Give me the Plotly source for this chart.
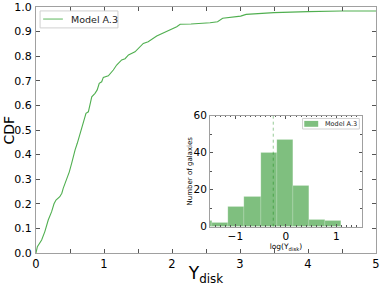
import plotly.graph_objects as go

# CDF curve
cdf_x = [0.0, 0.02, 0.083, 0.13, 0.18, 0.23, 0.265, 0.294, 0.35, 0.38, 0.40, 0.45, 0.49, 0.525, 0.55,
         0.575, 0.607, 0.647, 0.686, 0.72, 0.735, 0.77, 0.794, 0.82, 0.868, 0.90, 0.93, 0.966, 0.99,
         1.064, 1.137, 1.186, 1.26, 1.31, 1.36, 1.456, 1.578, 1.65, 1.775, 1.92, 2.07, 2.12, 2.28,
         2.56, 2.67, 2.745, 3.01, 3.09, 3.50, 4.0, 4.49, 5.0]
cdf_y = [0.0, 0.026, 0.053, 0.087, 0.134, 0.168, 0.20, 0.215, 0.229, 0.243, 0.263, 0.297, 0.33, 0.365, 0.398,
         0.419, 0.446, 0.487, 0.527, 0.561, 0.568, 0.574, 0.608, 0.635, 0.649, 0.663, 0.69, 0.696, 0.714,
         0.72, 0.744, 0.764, 0.785, 0.79, 0.805, 0.818, 0.852, 0.859, 0.882, 0.90, 0.92, 0.93, 0.931,
         0.936, 0.94, 0.954, 0.963, 0.97, 0.977, 0.981, 0.984, 0.984]

# Inset histogram of log(Y_disk)
bin_edges = [-1.78, -1.46, -1.14, -0.82, -0.50, -0.18, 0.14, 0.46, 0.78, 1.10]
counts = [3, 2, 11, 16, 40, 47, 22, 4, 3]
marker_line_x = -0.25

series_name = "Model A.3"

centers = [(a + b) / 2 for a, b in zip(bin_edges[:-1], bin_edges[1:])]
widths = [b - a for a, b in zip(bin_edges[:-1], bin_edges[1:])]

FONT = "DejaVu Sans"
SPINE = "#a0a0a0"
TICK = "#555555"
LINE_COLOR = "rgb(80,175,80)"
BAR_COLOR = "rgba(0,128,0,0.5)"
BOX = "#d0d0d0"

fig = go.Figure()
fig.add_trace(go.Scatter(x=cdf_x, y=cdf_y, mode="lines", name=series_name,
                         line=dict(color=LINE_COLOR, width=1.1), showlegend=False))
fig.add_trace(go.Bar(x=centers, y=counts, width=widths, name=series_name,
                     marker=dict(color=BAR_COLOR, line=dict(width=0.5, color="rgba(255,255,255,0.35)")),
                     xaxis="x2", yaxis="y2", showlegend=False))

fig.add_shape(type="line", xref="x2", yref="y2", x0=marker_line_x, x1=marker_line_x, y0=0, y1=60,
              line=dict(color="rgba(0,128,0,0.6)", width=0.7, dash="dot"))

# main legend (drawn box, line sample, text)
fig.add_shape(type="rect", xref="paper", yref="paper", x0=0.012, x1=0.241, y0=0.915, y1=0.984,
              line=dict(color=BOX, width=1), fillcolor="white", layer="above")
fig.add_shape(type="line", xref="paper", yref="paper", x0=0.021, x1=0.079, y0=0.951, y1=0.951,
              line=dict(color="rgb(130,200,130)", width=1.3), layer="above")
fig.add_annotation(xref="paper", yref="paper", x=0.098, y=0.951, xanchor="left", yanchor="middle",
                   text=series_name, showarrow=False, font=dict(size=9.5, family=FONT, color="#222"))

# inset legend
fig.add_shape(type="rect", xref="paper", yref="paper", x0=0.784, x1=0.951, y0=0.504, y1=0.547,
              line=dict(color=BOX, width=1), fillcolor="white", layer="above")
fig.add_shape(type="rect", xref="paper", yref="paper", x0=0.789, x1=0.830, y0=0.513, y1=0.537,
              line=dict(width=0), fillcolor=BAR_COLOR, layer="above")
fig.add_annotation(xref="paper", yref="paper", x=0.845, y=0.526, xanchor="left", yanchor="middle",
                   text=series_name, showarrow=False, font=dict(size=6.5, family=FONT, color="#222"))

# main y-axis title
fig.add_annotation(xref="paper", yref="paper", x=-0.078, y=0.5, xanchor="center", yanchor="middle",
                   text="CDF", textangle=-90, showarrow=False, font=dict(size=14, family=FONT, color="black"))

fig.update_layout(
    width=382, height=286,
    margin=dict(l=36, r=6, t=7, b=33, autoexpand=False),
    paper_bgcolor="white", plot_bgcolor="white",
    font=dict(family=FONT, color="black"),
    bargap=0,
    xaxis=dict(range=[0, 5], tickvals=[0, 1, 2, 3, 4, 5], ticks="inside", ticklen=4, tickcolor=TICK,
               minor=dict(dtick=0.5, ticks="inside", ticklen=4, tickcolor=TICK),
               showline=True, linecolor=SPINE, linewidth=1, mirror="allticks", showgrid=False, zeroline=False,
               tickfont=dict(size=11.5), automargin=False,
               title=dict(text="Υ<sub>disk</sub>", font=dict(size=17), standoff=0)),
    yaxis=dict(range=[0, 1.0], dtick=0.1, tickformat=".1f", ticks="inside", ticklen=4, tickcolor=TICK,
               showline=True, linecolor=SPINE, linewidth=1, mirror="allticks", showgrid=False, zeroline=False,
               tickfont=dict(size=11), automargin=False, ticklabelstandoff=1),
    xaxis2=dict(domain=[0.512, 0.958], anchor="y2", range=[-1.5, 1.5], tickvals=[-1, 0, 1],
                ticktext=["−1", "0", "1"], ticks="inside", ticklen=3, tickcolor=TICK,
                minor=dict(dtick=0.1, ticks="inside", ticklen=1.5, tickcolor=TICK),
                showline=True, linecolor=SPINE, linewidth=1, mirror="allticks", showgrid=False, zeroline=False,
                tickfont=dict(size=10.5), automargin=False,
                title=dict(text="log(Υ<sub>disk</sub>)", font=dict(size=7.5), standoff=0)),
    yaxis2=dict(domain=[0.107, 0.558], anchor="x2", range=[0, 60], tickvals=[0, 20, 40, 60],
                ticks="inside", ticklen=3, tickcolor=TICK,
                minor=dict(dtick=10, ticks="inside", ticklen=2, tickcolor=TICK),
                showline=True, linecolor=SPINE, linewidth=1, mirror="allticks", showgrid=False, zeroline=False,
                tickfont=dict(size=10.5), automargin=False,
                title=dict(text="Number of galaxies", font=dict(size=7), standoff=0)),
)

fig.write_html("out.html", config={"displayModeBar": False},
               post_script="document.body.style.margin='0';")
